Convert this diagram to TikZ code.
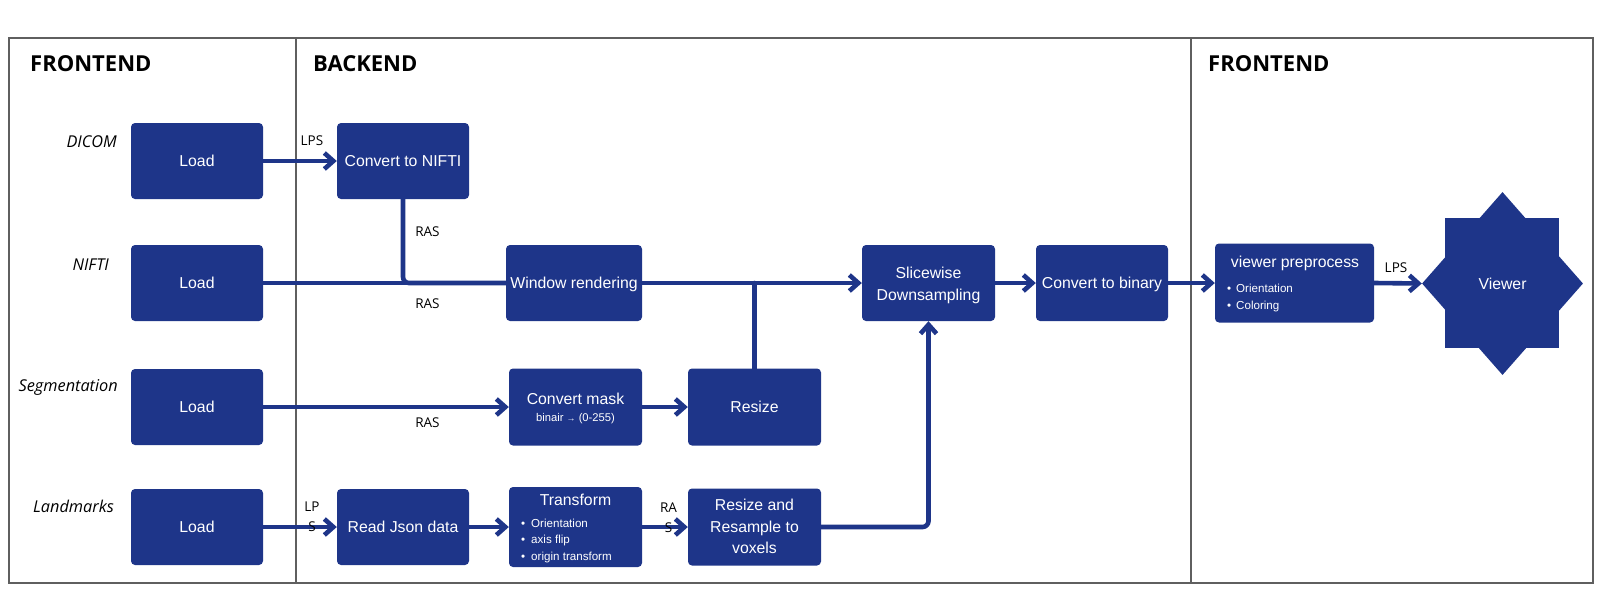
\documentclass[tikz,border=0pt]{standalone}
\usepackage{fontspec}
\setmainfont{Liberation Sans}
\newfontfamily\osans{Open Sans}
\usetikzlibrary{arrows.meta,shapes.geometric}
\definecolor{nblue}{HTML}{1E3589}
\definecolor{framec}{HTML}{5F5F5F}
\begin{document}
\begin{tikzpicture}[x=1pt,y=-1pt,
  box/.style={fill=nblue, rounded corners=4pt, inner sep=0pt, text=white,
    font=\fontsize{15.8}{19}\selectfont, text height=11.4pt, text depth=0pt},
  btxt/.style={text=white, inner sep=0pt, anchor=base, font=\fontsize{15.8}{19}\selectfont},
  stxt/.style={text=white, inner sep=0pt, anchor=base west, font=\fontsize{11.6}{14}\selectfont},
  conn/.style={draw=nblue, line width=4.6pt, line cap=round, line join=round},
  arr/.style={conn, -{Straight Barb[length=9pt,width=16pt]}},
  lab/.style={inner sep=0pt, font=\osans\fontsize{13.5}{20}\selectfont},
  src/.style={inner sep=0pt, anchor=base east, font=\osans\itshape\fontsize{16.3}{19}\selectfont},
  head/.style={inner sep=0pt, anchor=base west, font=\osans\bfseries\fontsize{22}{26}\selectfont},
  panel/.style={draw=framec, line width=1.5pt}
]
\useasboundingbox (0,0) rectangle (1603,592);

% panels
\draw[panel] (9,38) rectangle (296,583);
\draw[panel] (296,38) rectangle (1191,583);
\draw[panel] (1191,38) rectangle (1593,583);

\node[head] (h1) at (30,71.5) {FRONTEND};
\node[head] (h2) at (313,71.5) {BACKEND};
\node[head] (h3) at (1208,71) {FRONTEND};

% sources
\node[src] (s1) at (117,147) {DICOM};
\node[src] (s2) at (109,270) {NIFTI};
\node[src] (s3) at (118,391) {Segmentation};
\node[src] (s4) at (114,512) {Landmarks};

% boxes
\node[box, minimum width=132pt, minimum height=76pt] (l1) at (197,161) {Load};
\node[box, minimum width=132pt, minimum height=76pt] (l2) at (197,283) {Load};
\node[box, minimum width=132pt, minimum height=76pt] (l3) at (197,407) {Load};
\node[box, minimum width=132pt, minimum height=76pt] (l4) at (197,527) {Load};

\node[box, minimum width=132pt, minimum height=76pt] (cn) at (403,161) {Convert to NIFTI};
\node[box, minimum width=136pt, minimum height=76pt] (wr) at (574,283) {Window rendering};
\node[box, minimum width=133pt, minimum height=77pt] (cm) at (575.5,407) {};
\node[btxt] (cm1) at (575.5,404) {Convert mask};
\node[stxt, anchor=base, font=\fontsize{11.2}{13}\selectfont] (cm2) at (575.5,421.5) {binair {\fontsize{9}{9}\selectfont →} (0-255)};
\node[box, minimum width=133pt, minimum height=77pt] (rs) at (754.5,407) {Resize};

\node[box, minimum width=132pt, minimum height=76pt] (rj) at (403,527) {Read Json data};
\node[box, minimum width=133pt, minimum height=80pt] (tf) at (575.5,527) {};
\node[btxt] (tf0) at (575.5,505) {Transform};
\node[stxt] (tf1) at (521,527) {\makebox[10pt][l]{\textbullet}Orientation};
\node[stxt] (tf2) at (521,543.5) {\makebox[10pt][l]{\textbullet}axis flip};
\node[stxt] (tf3) at (521,560) {\makebox[10pt][l]{\textbullet}origin transform};

\node[box, minimum width=133pt, minimum height=77pt] (rr) at (754.5,527) {};
\node[btxt] (rr1) at (754.5,510) {Resize and};
\node[btxt] (rr2) at (754.5,532) {Resample to};
\node[btxt] (rr3) at (754.5,553.5) {voxels};

\node[box, minimum width=133pt, minimum height=76pt] (sd) at (928.5,283) {};
\node[btxt] (sd1) at (928.5,278) {Slicewise};
\node[btxt] (sd2) at (928.5,300) {Downsampling};

\node[box, minimum width=132pt, minimum height=76pt] (cb) at (1102,283) {Convert to binary};

\node[box, minimum width=159pt, minimum height=79pt] (vp) at (1294.5,283) {};
\node[btxt] (vp0) at (1295,267) {viewer preprocess};
\node[stxt] (vp1) at (1227,292.5) {\makebox[9pt][l]{\textbullet}Orientation};
\node[stxt] (vp2) at (1227,309) {\makebox[9pt][l]{\textbullet}Coloring};

% viewer star
\fill[nblue] (1445,218) rectangle (1559,348);
\node[diamond, fill=nblue, minimum width=161pt, minimum height=183pt, inner sep=0pt,
  text=white, font=\fontsize{15.8}{19}\selectfont] (vw) at (1502.5,283.5) {Viewer};

% connectors
\draw[arr] (l1.east) -- (cn.west);
\draw[conn] (l2.east) -- (wr.west);
\draw[conn, rounded corners=6pt] (cn.south) |- (wr.west);
\draw[arr] (wr.east) -- (sd.west);
\draw[conn] (rs.north) -- (rs.north |- wr.east);
\draw[arr] (l3.east) -- (cm.west);
\draw[arr] (cm.east) -- (rs.west);
\draw[arr] (l4.east) -- (rj.west);
\draw[arr] (rj.east) -- (tf.west);
\draw[arr] (tf.east) -- (rr.west);
\draw[arr, rounded corners=6pt] (rr.east) -| (sd.south);
\draw[arr] (sd.east) -- (cb.west);
\draw[arr] (cb.east) -- (vp.west);
\draw[arr] (vp.east) -- (vw.west);

% labels
\node[lab] (t1) at (312,141) {LPS};
\node[lab] (t2) at (427.5,232) {RAS};
\node[lab] (t3) at (427.5,304) {RAS};
\node[lab] (t4) at (427.5,423) {RAS};
\node[lab, align=center] (t5) at (312,517) {LP\\S};
\node[lab, align=center] (t6) at (668.5,517.5) {RA\\S};
\node[lab] (t7) at (1396,268) {LPS};
\end{tikzpicture}
\end{document}
